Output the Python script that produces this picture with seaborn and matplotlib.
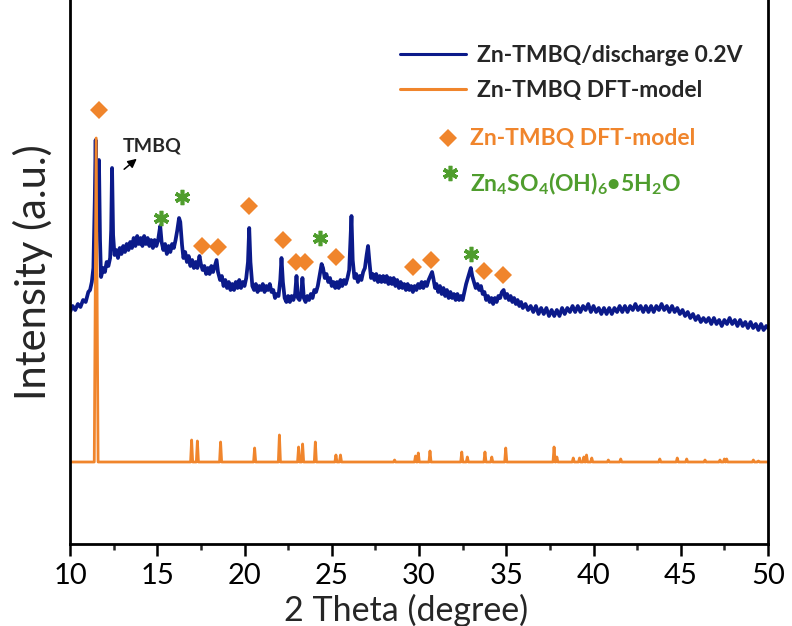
import matplotlib
matplotlib.use("Agg")
import matplotlib.pyplot as plt
import pandas as pd
import seaborn as sns
from matplotlib.lines import Line2D

# Measured pattern: Zn-TMBQ electrode after discharge to 0.2 V (arbitrary intensity units)
two_theta_exp = [
    10.0, 10.15, 10.3, 10.45, 10.6, 10.75, 10.9, 11.05, 11.15, 11.25, 11.34, 11.42, 11.47, 11.53,
    11.6, 11.66, 11.72, 11.78, 11.9, 12.0, 12.1, 12.2, 12.3, 12.36, 12.41, 12.47, 12.55, 12.65,
    12.75, 12.85, 12.95, 13.05, 13.15, 13.25, 13.35, 13.45, 13.55, 13.65, 13.75, 13.85, 13.95,
    14.05, 14.15, 14.25, 14.35, 14.45, 14.55, 14.65, 14.75, 14.85, 14.95, 15.05, 15.12, 15.17,
    15.25, 15.35, 15.45, 15.55, 15.65, 15.75, 15.85, 15.95, 16.05, 16.15, 16.25, 16.32, 16.42,
    16.5, 16.6, 16.7, 16.8, 16.9, 17.0, 17.1, 17.2, 17.3, 17.42, 17.5, 17.6, 17.7, 17.8, 17.9,
    18.0, 18.1, 18.2, 18.3, 18.4, 18.48, 18.6, 18.7, 18.8, 18.9, 19.0, 19.1, 19.2, 19.3, 19.4,
    19.5, 19.6, 19.7, 19.8, 19.9, 20.0, 20.1, 20.2, 20.27, 20.34, 20.45, 20.55, 20.65, 20.75,
    20.85, 20.95, 21.05, 21.15, 21.25, 21.35, 21.45, 21.55, 21.65, 21.75, 21.85, 21.95, 22.05,
    22.12, 22.2, 22.3, 22.4, 22.5, 22.6, 22.7, 22.8, 22.9, 22.98, 23.06, 23.15, 23.25, 23.32,
    23.4, 23.5, 23.6, 23.7, 23.8, 23.9, 24.0, 24.1, 24.2, 24.3, 24.42, 24.5, 24.6, 24.7, 24.8,
    24.9, 25.0, 25.1, 25.2, 25.3, 25.4, 25.5, 25.6, 25.7, 25.8, 25.9, 26.0, 26.07, 26.13, 26.2,
    26.3, 26.4, 26.5, 26.6, 26.7, 26.8, 26.9, 27.0, 27.08, 27.16, 27.25, 27.35, 27.45, 27.55,
    27.65, 27.75, 27.85, 27.95, 28.05, 28.15, 28.25, 28.35, 28.45, 28.55, 28.65, 28.75, 28.85,
    28.95, 29.05, 29.15, 29.25, 29.35, 29.45, 29.55, 29.65, 29.75, 29.85, 29.95, 30.05, 30.15,
    30.25, 30.35, 30.45, 30.55, 30.65, 30.75, 30.82, 30.92, 31.0, 31.1, 31.2, 31.3, 31.4, 31.5,
    31.6, 31.7, 31.8, 31.9, 32.0, 32.1, 32.2, 32.3, 32.4, 32.5, 32.6, 32.7, 32.8, 32.9, 32.97,
    33.05, 33.15, 33.25, 33.35, 33.45, 33.55, 33.65, 33.75, 33.85, 33.95, 34.05, 34.15, 34.25,
    34.35, 34.45, 34.55, 34.65, 34.75, 34.85, 34.95, 35.05, 35.15, 35.25, 35.35, 35.45, 35.55,
    35.65, 35.75, 35.85, 35.95, 36.1, 36.25, 36.4, 36.55, 36.7, 36.85, 37.0, 37.15, 37.3, 37.45,
    37.6, 37.75, 37.9, 38.05, 38.2, 38.35, 38.5, 38.65, 38.8, 38.95, 39.1, 39.25, 39.4, 39.55,
    39.7, 39.85, 40.0, 40.15, 40.3, 40.45, 40.6, 40.75, 40.9, 41.05, 41.2, 41.35, 41.5, 41.65,
    41.8, 41.95, 42.1, 42.25, 42.4, 42.55, 42.7, 42.85, 43.0, 43.15, 43.3, 43.45, 43.6, 43.75,
    43.9, 44.05, 44.2, 44.35, 44.5, 44.65, 44.8, 44.95, 45.1, 45.25, 45.4, 45.55, 45.7, 45.85,
    46.0, 46.15, 46.3, 46.45, 46.6, 46.75, 46.9, 47.05, 47.2, 47.35, 47.5, 47.65, 47.8, 47.95,
    48.1, 48.25, 48.4, 48.55, 48.7, 48.85, 49.0, 49.15, 49.3, 49.45, 49.6, 49.75, 49.9, 50.0,
]
intensity_exp = [
    232, 238, 234, 240, 237, 244, 242, 252, 254, 262, 276, 344, 404, 314,
    344, 384, 304, 267, 276, 272, 282, 278, 286, 314, 376, 309, 289, 294,
    286, 296, 290, 298, 292, 300, 294, 302, 296, 306, 298, 308, 300,
    306, 298, 308, 300, 306, 298, 304, 296, 304, 298, 304, 312, 318,
    302, 294, 300, 290, 298, 292, 300, 296, 304, 314, 326, 322, 299,
    286, 292, 282, 288, 278, 284, 276, 282, 276, 288, 280, 274, 278, 270, 276,
    270, 278, 272, 278, 284, 272, 264, 268, 258, 264, 256, 262, 254, 260, 254,
    262, 256, 264, 256, 262, 258, 266, 282, 316, 282, 258, 254, 260, 252,
    258, 254, 260, 252, 258, 254, 260, 252, 254, 246, 250, 248, 264,
    286, 262, 246, 242, 248, 242, 248, 244, 250, 268, 246, 244, 250, 266,
    246, 242, 248, 244, 250, 246, 254, 252, 258, 268, 280, 276, 266, 270, 262,
    266, 258, 262, 256, 262, 256, 264, 258, 264, 260, 266, 274, 304, 328, 284,
    266, 270, 262, 268, 264, 272, 276, 289, 298, 282, 266, 270, 264, 270,
    262, 268, 262, 268, 262, 268, 260, 266, 260, 266, 258, 264, 256,
    262, 256, 260, 254, 260, 254, 258, 252, 258, 254, 260, 256, 262,
    256, 262, 258, 264, 268, 272, 266, 256, 260, 252, 258, 250, 256, 248,
    254, 246, 252, 246, 250, 244, 250, 244, 248, 244, 252, 260, 266, 272, 276,
    268, 262, 256, 260, 254, 258, 250, 252, 244, 248, 242, 246, 240,
    246, 242, 248, 246, 252, 254, 246, 250, 244, 248, 242, 246, 240,
    244, 238, 242, 236, 240, 234, 238, 232, 238, 230, 236, 230, 236, 228,
    234, 228, 234, 228, 236, 230, 236, 232, 238, 232, 238, 232, 238, 234,
    240, 232, 238, 232, 236, 230, 236, 230, 236, 230, 236, 232, 238, 232,
    238, 232, 238, 234, 240, 234, 238, 232, 238, 232, 238, 232, 238, 234,
    240, 234, 238, 232, 238, 232, 236, 230, 234, 228, 232, 226, 230, 224,
    228, 222, 226, 222, 226, 220, 226, 220, 224, 218, 224, 220, 226, 220,
    224, 218, 224, 218, 222, 216, 222, 216, 220, 214, 220, 214, 218, 216,
]

# DFT-simulated pattern of the Zn-TMBQ model: flat baseline plus reflections
dft_baseline = 82
dft_peak_pos = [
    11.5, 16.97, 17.3, 18.63, 20.58, 22.0, 23.1, 23.33, 24.06, 25.24, 25.5, 28.6, 29.8,
    29.96, 30.63, 32.45, 32.77, 33.78, 34.17, 34.97, 37.74, 37.9, 38.84, 39.2, 39.45, 39.6,
    39.9, 40.85, 41.56, 43.8, 44.8, 45.34, 46.39, 47.25, 47.5, 47.63, 49.16, 49.45,
]
dft_peak_height = [
    324, 22, 21, 20, 14, 27, 15, 18, 20, 7, 7, 2, 6,
    9, 11, 10, 5, 10, 5, 14, 15, 5, 4, 4, 5, 7,
    4, 2, 3, 3, 4, 3, 2, 2, 3, 3, 2, 1,
]

# Reflection markers
dft_marker_x = [11.66, 17.56, 18.48, 20.26, 22.2, 22.95, 23.47, 25.24, 29.66, 30.69, 33.72, 34.81]
dft_marker_y = [434, 298, 297, 338, 304, 282, 282, 287, 277, 284, 273, 269]
zhs_marker_x = [15.21, 16.42, 24.33, 32.98]
zhs_marker_y = [326, 347, 306, 290]

series_labels = ["Zn-TMBQ/discharge 0.2V", "Zn-TMBQ DFT-model"]
x_ticks = [10, 15, 20, 25, 30, 35, 40, 45, 50]

NAVY = "#0b1a8a"
ORANGE = "#f0852c"
GREEN = "#4f9d2d"

# Assemble the simulated profile as narrow line-shaped peaks on the baseline
dft_x, dft_y = [10.0], [dft_baseline]
for pos, h in zip(dft_peak_pos, dft_peak_height):
    w = 0.11 if h > 100 else 0.06
    dft_x += [pos - w, pos, pos + w]
    dft_y += [dft_baseline, dft_baseline + h, dft_baseline]
dft_x.append(50.0)
dft_y.append(dft_baseline)

df = pd.concat([
    pd.DataFrame({"two_theta": two_theta_exp, "intensity": intensity_exp,
                  "series": series_labels[0]}),
    pd.DataFrame({"two_theta": dft_x, "intensity": dft_y,
                  "series": series_labels[1]}),
], ignore_index=True)

sns.set_theme(style="white")
plt.rcParams["font.family"] = ["Lato", "DejaVu Sans"]
plt.rcParams["mathtext.fontset"] = "custom"
plt.rcParams["mathtext.rm"] = "Lato"
plt.rcParams["mathtext.bf"] = "Lato:bold"

fig = plt.figure(figsize=(7.92, 6.26), dpi=100)
ax = fig.add_axes([70 / 792, 1 - 544 / 626, 698 / 792, 544 / 626])

sns.lineplot(data=df, x="two_theta", y="intensity", hue="series",
             palette={series_labels[0]: NAVY, series_labels[1]: ORANGE},
             hue_order=series_labels, sort=False, estimator=None,
             linewidth=2.0, ax=ax, legend=False)
ax.lines[0].set_linewidth(2.7)

ax.plot(dft_marker_x, dft_marker_y, linestyle="none", marker="D", markersize=9.5,
        color=ORANGE, markeredgewidth=0)
ax.plot(zhs_marker_x, zhs_marker_y, linestyle="none", marker=(6, 2, 0), markersize=11,
        color=GREEN, markeredgewidth=2.6)

# TMBQ reflection call-out
ax.annotate("", xy=(13.95, 387), xytext=(12.98, 373),
            arrowprops=dict(arrowstyle="-|>", color="black", lw=1.1, mutation_scale=13))
ax.text(13.05, 398, "TMBQ", fontsize=14, fontweight="bold", ha="left", va="center")

ax.set_xlim(10, 50)
ax.set_ylim(0, 544)
ax.set_xticks(x_ticks)
ax.set_xticks([12.5, 17.5, 22.5, 27.5, 32.5, 37.5, 42.5, 47.5], minor=True)
ax.set_yticks([])
ax.tick_params(axis="x", which="major", direction="out", length=8.5, width=1.8,
               labelsize=21, pad=5, bottom=True, colors="black")
ax.tick_params(axis="x", which="minor", direction="out", length=4.5, width=1.8, bottom=True)
for side in ["left", "bottom", "right"]:
    ax.spines[side].set_color("black")
    ax.spines[side].set_linewidth(2.0)
ax.spines["top"].set_visible(False)

ax.set_xlabel("2 Theta (degree)", fontsize=24.5)
ax.xaxis.set_label_coords((406 - 70) / 698, (544 - 594) / 544)
ax.set_ylabel("Intensity (a.u.)", fontsize=30, labelpad=12)

handles = [Line2D([], [], color=NAVY, lw=2.2), Line2D([], [], color=ORANGE, lw=2.2)]
leg = ax.legend(handles, series_labels, loc="upper left",
                bbox_to_anchor=(400 / 792, 1 - 45 / 626), bbox_transform=fig.transFigure,
                frameon=False, prop={"weight": "bold", "size": 16.5},
                handlelength=2.9, handletextpad=0.45, labelspacing=0.62, borderpad=0,
                borderaxespad=0)

def ax_frac(px, py):
    return ((px - 70) / 698, (544 - py) / 544)

ax.plot(*ax_frac(448, 138), transform=ax.transAxes, marker="D", markersize=9.5,
        color=ORANGE, markeredgewidth=0, linestyle="none")
ax.text(*ax_frac(470, 138), "Zn-TMBQ DFT-model", transform=ax.transAxes, color=ORANGE,
        fontsize=16.5, fontweight="bold", ha="left", va="center")
ax.plot(*ax_frac(450, 173), transform=ax.transAxes, marker=(6, 2, 0), markersize=11,
        color=GREEN, markeredgewidth=2.6, linestyle="none")
ax.text(*ax_frac(470, 184),
        r"Zn$_\mathbf{4}$SO$_\mathbf{4}$(OH)$_\mathbf{6}$•5H$_\mathbf{2}$O",
        transform=ax.transAxes, color=GREEN, fontsize=16.5, fontweight="bold",
        ha="left", va="center")

fig.savefig("out.png", dpi=100)
